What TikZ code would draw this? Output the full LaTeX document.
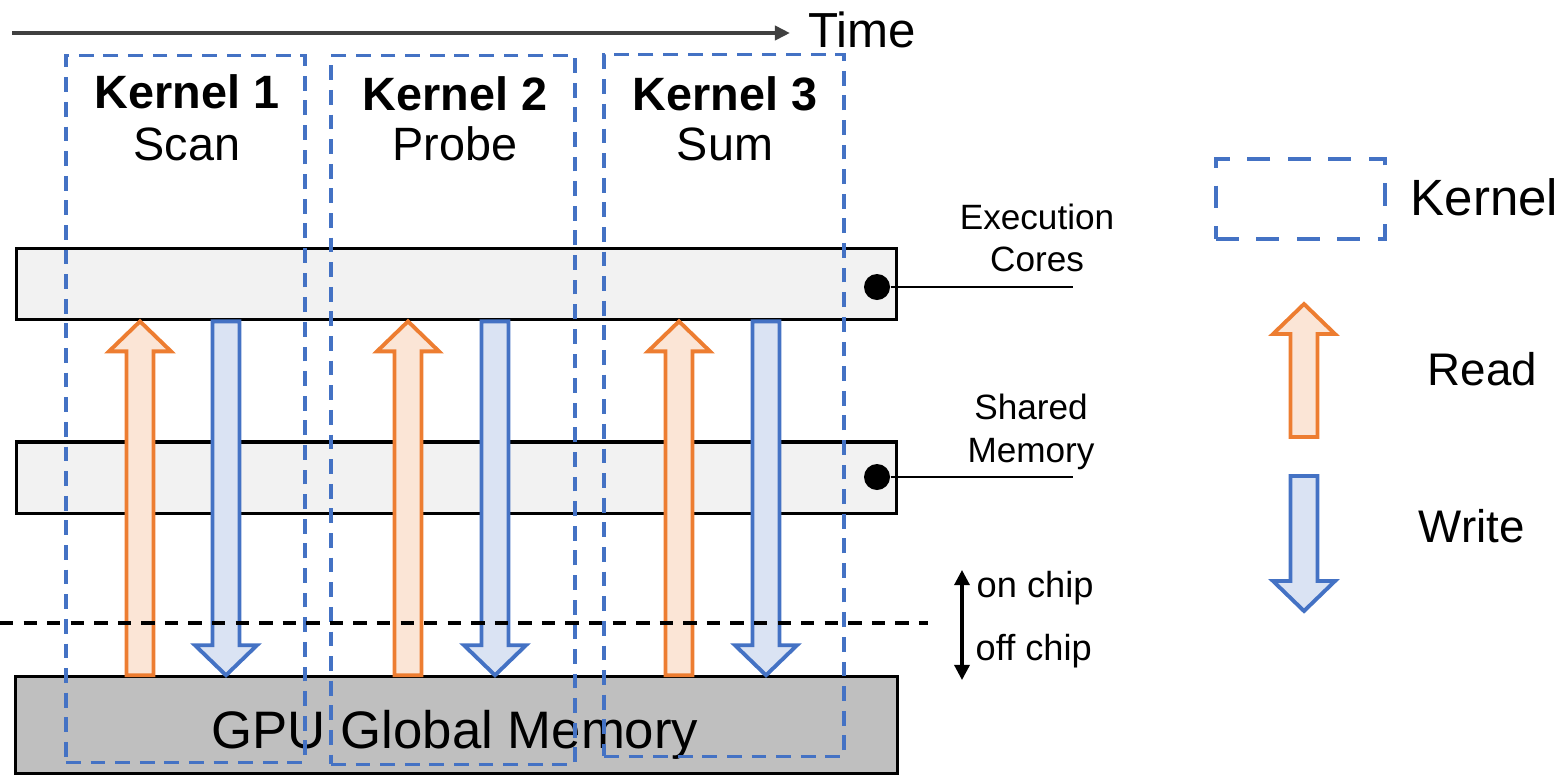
\documentclass[tikz,border=0pt]{standalone}
\usepackage{fontspec}
\setmainfont{Liberation Sans}
\usetikzlibrary{
    arrows.meta,
    positioning,
    calc
}
\definecolor{kernelblue}{HTML}{4472C4}
\definecolor{writefill}{HTML}{DAE3F3}
\definecolor{readorange}{HTML}{ED7D31}
\definecolor{readfill}{HTML}{FBE5D6}
\definecolor{barfill}{HTML}{F2F2F2}
\definecolor{memfill}{HTML}{BFBFBF}
\definecolor{timegray}{HTML}{404040}
\tikzset{
    mem bar/.style={
        rectangle, draw=black, fill=barfill, line width=0.9pt,
        minimum width=8.8cm, minimum height=0.715cm, inner sep=0pt
    },
    global mem/.style={
        rectangle, draw=black, fill=memfill, line width=0.9pt,
        minimum width=8.82cm, minimum height=0.97cm, inner sep=0pt
    },
    kernel box/.style={
        rectangle, draw=kernelblue, line width=0.95pt,
        dash pattern=on 4.2pt off 2.8pt, inner sep=0pt
    },
    kernel title/.style={
        font=\fontsize{13.3}{16}\selectfont\bfseries, anchor=base, inner sep=0pt
    },
    kernel name/.style={
        font=\fontsize{13.3}{16}\selectfont, anchor=base, inner sep=0pt
    },
    side label/.style={
        font=\fontsize{10}{12}\selectfont, align=center, anchor=south, inner sep=0pt
    },
    chip label/.style={
        font=\fontsize{10.3}{12}\selectfont, anchor=base west, inner sep=0pt
    },
    legend label/.style={
        font=\fontsize{13}{16}\selectfont, anchor=base west, inner sep=0pt
    },
    read flow/.style={
        draw=readorange, fill=readfill, line width=1.1pt
    },
    write flow/.style={
        draw=kernelblue, fill=writefill, line width=1.1pt
    },
    dot/.style={
        circle, fill=black, minimum size=0.26cm, inner sep=0pt
    },
    leader/.style={
        draw=black, line width=0.6pt
    },
    chip arrow/.style={
        -{Triangle[length=4.3pt, width=4.3pt]}, line width=0.9pt
    },
}
% block arrow: style, axis, tail, head, +1 up / -1 down
\newcommand{\flowarrow}[5]{%
    \draw[#1] ($(#2 |- #3)+(-13.5,0)$) -- ($(#2 |- #4)+(-13.5,#5*30)$)
        -- ($(#2 |- #4)+(-31,#5*30)$) -- (#2 |- #4)
        -- ($(#2 |- #4)+(31,#5*30)$) -- ($(#2 |- #4)+(13.5,#5*30)$)
        -- ($(#2 |- #3)+(13.5,0)$) -- cycle;
}
\begin{document}
\begin{tikzpicture}[x=0.01cm, y=-0.01cm]
    \useasboundingbox (0,0) rectangle (1567,775);

    % Time axis
    \coordinate (t0) at (12,33);
    \coordinate (t1) at (790,33);
    \draw[-{Triangle[length=4.3pt, width=4pt]}, line width=1.15pt, timegray] (t0) -- (t1);
    \node[font=\fontsize{14}{16}\selectfont, anchor=base west, inner sep=0pt] (time) at (808,47) {Time};

    % Memory levels
    \node[mem bar] (cores) at (456.5,284) {};
    \node[mem bar, below=1.19cm of cores] (shmem) {};
    \node[global mem, below=1.6cm of shmem.south, anchor=north] (gmem) {};
    \node[font=\fontsize{15}{18}\selectfont, anchor=base, inner sep=0pt] (gmem label) at (455,748) {GPU Global Memory};

    % Level labels
    \node[dot] (cores dot) at (877,287) {};
    \node[dot] (shmem dot) at (877,477) {};
    \coordinate (cores end) at (1073,287);
    \coordinate (shmem end) at (1073,477);
    \draw[leader] (cores dot) -- (cores end);
    \draw[leader] (shmem dot) -- (shmem end);
    \node[side label] (cores label) at (1037,273) {Execution\\Cores};
    \node[side label] (shmem label) at (1031,470) {Shared\\Memory};

    % Read / write traffic
    \coordinate (r1) at (140,0);
    \coordinate (w1) at (226,0);
    \coordinate (r2) at (408,0);
    \coordinate (w2) at (495,0);
    \coordinate (r3) at (679,0);
    \coordinate (w3) at (766,0);
    \foreach \k in {1,2,3} {
        \flowarrow{read flow}{r\k}{gmem.north}{cores.south}{1}
        \flowarrow{write flow}{w\k}{cores.south}{gmem.north}{-1}
    }

    % Kernels
    \node[kernel box, minimum width=2.39cm, minimum height=7.06cm] (k1) at (185.5,409) {};
    \node[kernel box, minimum width=2.44cm, minimum height=7.08cm] (k2) at (453,410) {};
    \node[kernel box, minimum width=2.40cm, minimum height=7.01cm] (k3) at (724,405.5) {};
    \node[kernel title] (k1 title) at (187,108) {Kernel 1};
    \node[kernel name] (k1 name) at (187,160) {Scan};
    \node[kernel title] (k2 title) at (455,110) {Kernel 2};
    \node[kernel name] (k2 name) at (455,160) {Probe};
    \node[kernel title] (k3 title) at (725,110) {Kernel 3};
    \node[kernel name] (k3 name) at (725,160) {Sum};

    % Chip boundary
    \coordinate (edge l) at (0,623);
    \coordinate (edge r) at (928,623);
    \draw[line width=0.9pt, dash pattern=on 3.8pt off 2.9pt] (edge l) -- (edge r);
    \coordinate (chip mid) at (962,622);
    \coordinate (chip top) at (962,570);
    \coordinate (chip bot) at (962,680);
    \draw[chip arrow] ([yshift=-0.5pt]chip mid) -- (chip top);
    \draw[chip arrow] ([yshift=0.5pt]chip mid) -- (chip bot);
    \node[chip label] (on chip) at (976,597) {on chip};
    \node[chip label] (off chip) at (975,660) {off chip};

    % Legend
    \node[kernel box, line width=1.3pt, dash pattern=on 6.5pt off 5pt,
          minimum width=1.69cm, minimum height=0.8cm] (lgd kernel) at (1300.5,199) {};
    \node[font=\fontsize{14.5}{16}\selectfont, anchor=base west, inner sep=0pt] (lgd kernel label) at (1410,215) {Kernel};
    \coordinate (lgd read tail) at (1304,437);
    \coordinate (lgd read head) at (1304,304);
    \coordinate (lgd write tail) at (1304,476);
    \coordinate (lgd write head) at (1304,611);
    \flowarrow{read flow}{lgd read tail}{lgd read tail}{lgd read head}{1}
    \flowarrow{write flow}{lgd write tail}{lgd write tail}{lgd write head}{-1}
    \node[legend label] (lgd read label) at (1427,385) {Read};
    \node[legend label] (lgd write label) at (1418,542) {Write};
\end{tikzpicture}
\end{document}
